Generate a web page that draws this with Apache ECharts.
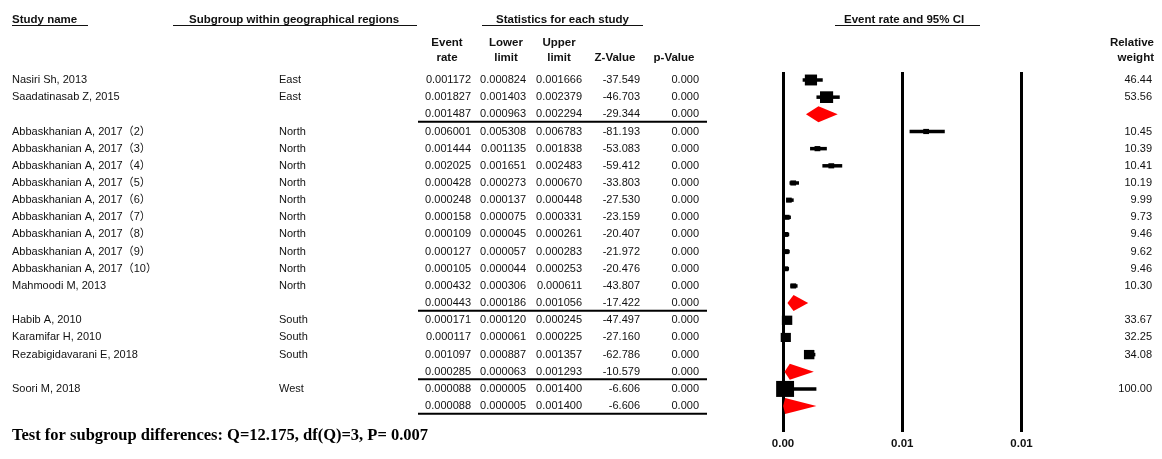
<!DOCTYPE html>
<html>
<head>
<meta charset="utf-8">
<script src="https://cdn.jsdelivr.net/npm/echarts@6/dist/echarts.min.js"></script>
<style>
  html, body { margin: 0; padding: 0; background: #fff; }
  #chart { width: 1162px; height: 459px; }
</style>
</head>
<body>
<div id="chart"></div>
<script>
// Rows of the forest plot, top to bottom. Summary rows have no study name.
const studyNames = [
  'Nasiri Sh, 2013', 'Saadatinasab Z, 2015', '',
  'Abbaskhanian A, 2017（2）', 'Abbaskhanian A, 2017（3）', 'Abbaskhanian A, 2017（4）',
  'Abbaskhanian A, 2017（5）', 'Abbaskhanian A, 2017（6）', 'Abbaskhanian A, 2017（7）',
  'Abbaskhanian A, 2017（8）', 'Abbaskhanian A, 2017（9）', 'Abbaskhanian A, 2017（10）',
  'Mahmoodi M, 2013', '',
  'Habib A, 2010', 'Karamifar H, 2010', 'Rezabigidavarani E, 2018', '',
  'Soori M, 2018', ''
];
const regions = [
  'East', 'East', '',
  'North', 'North', 'North', 'North', 'North', 'North', 'North', 'North', 'North', 'North', '',
  'South', 'South', 'South', '',
  'West', ''
];
const isSummary = [
  false, false, true,
  false, false, false, false, false, false, false, false, false, false, true,
  false, false, false, true,
  false, true
];
const eventRate = [
  0.001172, 0.001827, 0.001487,
  0.006001, 0.001444, 0.002025, 0.000428, 0.000248, 0.000158, 0.000109, 0.000127, 0.000105, 0.000432, 0.000443,
  0.000171, 0.000117, 0.001097, 0.000285,
  0.000088, 0.000088
];
const lowerLimit = [
  0.000824, 0.001403, 0.000963,
  0.005308, 0.001135, 0.001651, 0.000273, 0.000137, 0.000075, 0.000045, 0.000057, 0.000044, 0.000306, 0.000186,
  0.000120, 0.000061, 0.000887, 0.000063,
  0.000005, 0.000005
];
const upperLimit = [
  0.001666, 0.002379, 0.002294,
  0.006783, 0.001838, 0.002483, 0.000670, 0.000448, 0.000331, 0.000261, 0.000283, 0.000253, 0.000611, 0.001056,
  0.000245, 0.000225, 0.001357, 0.001293,
  0.001400, 0.001400
];
const zValue = [
  -37.549, -46.703, -29.344,
  -81.193, -53.083, -59.412, -33.803, -27.530, -23.159, -20.407, -21.972, -20.476, -43.807, -17.422,
  -47.497, -27.160, -62.786, -10.579,
  -6.606, -6.606
];
const pValue = [
  0.000, 0.000, 0.000,
  0.000, 0.000, 0.000, 0.000, 0.000, 0.000, 0.000, 0.000, 0.000, 0.000, 0.000,
  0.000, 0.000, 0.000, 0.000,
  0.000, 0.000
];
const relWeight = [
  46.44, 53.56, null,
  10.45, 10.39, 10.41, 10.19, 9.99, 9.73, 9.46, 9.62, 9.46, 10.30, null,
  33.67, 32.25, 34.08, null,
  100.00, null
];
const tickLabels = ['0.00', '0.01', '0.01'];
const testText = 'Test for subgroup differences: Q=12.175, df(Q)=3, P= 0.007';

const SANS = '"Liberation Sans", Arial, "Noto Sans CJK SC", sans-serif';
const SERIF = '"Liberation Serif", "Times New Roman", serif';
const FS = 11;

const rows = studyNames.map((n, i) => [i, eventRate[i], lowerLimit[i], upperLimit[i], relWeight[i] == null ? 0 : relWeight[i], isSummary[i] ? 1 : 0]);

function txt(x, y, s, align, opts) {
  return {
    type: 'text', x: x, y: y,
    style: Object.assign({ text: s, fill: '#111', font: FS + 'px ' + SANS, textAlign: align || 'left', textVerticalAlign: 'middle' }, opts || {})
  };
}

// Table columns drawn against the same row axis as the plot
function renderTable(params, api) {
  const i = api.value(0);
  const y = api.coord([0, i])[1];
  const children = [];
  if (studyNames[i]) children.push(txt(12, y, studyNames[i], 'left'));
  if (regions[i]) children.push(txt(279, y, regions[i], 'left'));
  children.push(txt(471, y, eventRate[i].toFixed(6), 'right'));
  children.push(txt(526, y, lowerLimit[i].toFixed(6), 'right'));
  children.push(txt(582, y, upperLimit[i].toFixed(6), 'right'));
  children.push(txt(640, y, zValue[i].toFixed(3), 'right'));
  children.push(txt(699, y, pValue[i].toFixed(3), 'right'));
  if (relWeight[i] != null) children.push(txt(1152, y, relWeight[i].toFixed(2), 'right'));
  if (isSummary[i]) {
    const half = (api.coord([0, i + 1])[1] - y) * 0.44;
    children.push({
      type: 'line',
      shape: { x1: 418, y1: y + half, x2: 707, y2: y + half },
      style: { stroke: '#000', lineWidth: 2 }
    });
  }
  return { type: 'group', children: children };
}

// Study squares with CI bars, and red diamonds for subgroup pooled estimates
function renderForest(params, api) {
  const i = api.value(0);
  const c = api.coord([api.value(1), i]);
  const lo = api.coord([api.value(2), i]);
  const hi = api.coord([api.value(3), i]);
  if (api.value(5)) {
    const h = 8;
    return {
      type: 'polygon',
      shape: { points: [[lo[0], c[1]], [c[0], c[1] - h], [hi[0], c[1]], [c[0], c[1] + h]] },
      style: { fill: '#ff0000' }
    };
  }
  const s = 1.6 * Math.sqrt(api.value(4));
  const w = s * 1.12;
  return {
    type: 'group',
    children: [
      { type: 'line', shape: { x1: lo[0], y1: c[1], x2: hi[0], y2: c[1] }, style: { stroke: '#000', lineWidth: 3.5 } },
      { type: 'rect', shape: { x: c[0] - w / 2, y: c[1] - s / 2, width: w, height: s }, style: { fill: '#000' } }
    ]
  };
}

const chart = echarts.init(document.getElementById('chart'), null, { renderer: 'canvas' });

const headerFont = 'bold 11.5px ' + SANS;
const headers = [
  txt(12, 20, 'Study name', 'left', { font: headerFont }),
  txt(189, 20, 'Subgroup within geographical regions', 'left', { font: headerFont }),
  txt(496, 20, 'Statistics for each study', 'left', { font: headerFont }),
  txt(844, 20, 'Event rate and 95% CI', 'left', { font: headerFont }),
  txt(447, 43, 'Event', 'center', { font: headerFont }),
  txt(447, 58, 'rate', 'center', { font: headerFont }),
  txt(506, 43, 'Lower', 'center', { font: headerFont }),
  txt(506, 58, 'limit', 'center', { font: headerFont }),
  txt(559, 43, 'Upper', 'center', { font: headerFont }),
  txt(559, 58, 'limit', 'center', { font: headerFont }),
  txt(615, 58, 'Z-Value', 'center', { font: headerFont }),
  txt(674, 58, 'p-Value', 'center', { font: headerFont }),
  txt(1154, 43, 'Relative', 'right', { font: headerFont }),
  txt(1154, 58, 'weight', 'right', { font: headerFont }),
  txt(12, 436, testText, 'left', { font: 'bold 16.5px ' + SERIF, fill: '#000' })
];
[[12, 88], [173, 417], [482, 643], [835, 980]].forEach(function (seg) {
  headers.push({ type: 'line', shape: { x1: seg[0], y1: 25.5, x2: seg[1], y2: 25.5 }, style: { stroke: '#111', lineWidth: 1 } });
});

chart.setOption({
  animation: false,
  backgroundColor: '#fff',
  grid: { left: 783, right: 140.5, top: 72, bottom: 27 },
  xAxis: {
    type: 'value', min: 0, max: 0.01, interval: 0.005,
    axisLine: { show: false }, axisTick: { show: false },
    splitLine: { show: true, showMinLine: true, showMaxLine: true, lineStyle: { color: '#000', width: 3 } },
    axisLabel: {
      margin: 6, color: '#111', fontWeight: 'bold', fontSize: 11.5, fontFamily: SANS,
      formatter: function (v, idx) { return tickLabels[idx]; }
    }
  },
  yAxis: {
    type: 'value', inverse: true, min: -0.466, max: 20.51,
    show: false, splitLine: { show: false }
  },
  graphic: headers,
  series: [
    { type: 'custom', clip: false, renderItem: renderTable, data: rows, silent: true },
    { type: 'custom', clip: false, renderItem: renderForest, data: rows, silent: true }
  ]
});
</script>
</body>
</html>
